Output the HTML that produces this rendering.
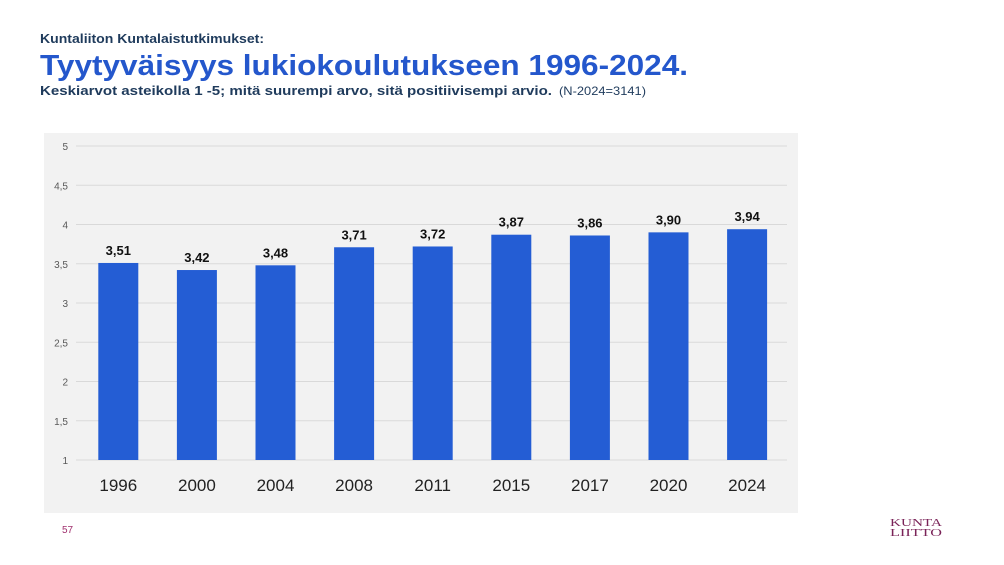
<!DOCTYPE html>
<html><head><meta charset="utf-8"><style>
body{margin:0;background:#fff;}
svg{display:block;font-family:"Liberation Sans",sans-serif;}
</style></head><body>
<svg id="c" width="1004" height="565" viewBox="0 0 1004 565">
<text x="40" y="43" font-size="13" font-weight="bold" fill="#1f3b5c" textLength="224" lengthAdjust="spacingAndGlyphs">Kuntaliiton Kuntalaistutkimukset:</text>
<text x="40" y="75" font-size="29" font-weight="bold" fill="#2457cc" textLength="648" lengthAdjust="spacingAndGlyphs">Tyytyväisyys lukiokoulutukseen 1996-2024.</text>
<text x="40" y="95" font-size="13" font-weight="bold" fill="#1f3b5c" textLength="512" lengthAdjust="spacingAndGlyphs">Keskiarvot asteikolla 1 -5; mitä suurempi arvo, sitä positiivisempi arvio.</text>
<text x="559" y="95" font-size="12" fill="#1f3b5c" textLength="87" lengthAdjust="spacingAndGlyphs">(N-2024=3141)</text>
<rect x="44" y="133" width="754" height="380" fill="#f2f2f2"/>
<g id="grid"></g><g id="bars"></g>
<text x="62" y="533" font-size="10" fill="#a0306e">57</text>
<text x="890" y="526" font-size="11" fill="#7a2358" font-family="Liberation Serif,serif" textLength="52" lengthAdjust="spacingAndGlyphs">KUNTA</text>
<text x="890" y="536" font-size="11" fill="#7a2358" font-family="Liberation Serif,serif" textLength="52" lengthAdjust="spacingAndGlyphs">LIITTO</text>
</svg>
<script>
const categories=["1996","2000","2004","2008","2011","2015","2017","2020","2024"];
const values=[3.51,3.42,3.48,3.71,3.72,3.87,3.86,3.90,3.94];
const ticks=[1,1.5,2,2.5,3,3.5,4,4.5,5];
const NS="http://www.w3.org/2000/svg";
const y=v=>460-(v-1)*78.5;
const x0=79,step=78.6,bw=40;
const xc=i=>x0+step*(i+0.5);
function mk(t,a,p,txt){const e=document.createElementNS(NS,t);for(const k in a)e.setAttribute(k,a[k]);if(txt!==undefined)e.textContent=txt;p.appendChild(e);return e;}
const g=document.getElementById('grid'),b=document.getElementById('bars');
ticks.forEach(t=>{
 const l=mk('line',{x1:76,x2:787,y1:y(t),y2:y(t),stroke:'#d9d9d9','stroke-width':1},g);
 
 
 const tx=mk('text',{x:68,y:y(t)+4,'font-size':10,fill:'#595959','text-anchor':'end'},g,String(t).replace('.',','));
 
 
});
categories.forEach((c,i)=>{
 const r=mk('rect',{x:xc(i)-bw/2,y:y(values[i]),width:bw,height:y(1)-y(values[i]),fill:'#245dd4'},b);
 
 
 const v=mk('text',{x:xc(i),y:y(values[i])-8,'font-size':13,'font-weight':'bold',fill:'#111','text-anchor':'middle'},b,values[i].toFixed(2).replace('.',','));
 
 
 const xl=mk('text',{x:xc(i),y:491,'font-size':17,fill:'#222','text-anchor':'middle'},b,c);
 
 
});
</script>
</body></html>
